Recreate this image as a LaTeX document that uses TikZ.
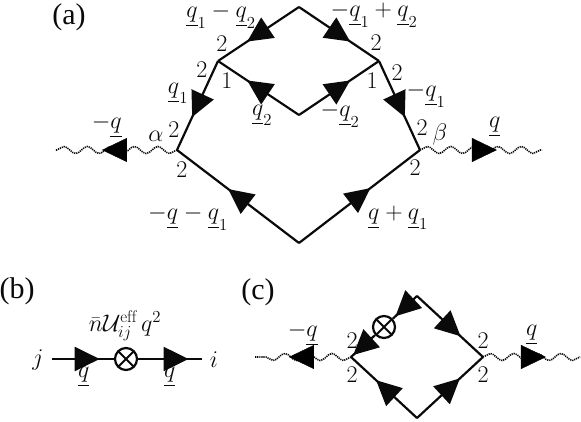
\documentclass[tikz,border=0pt]{standalone}
\usepackage{fix-cm}
\usepackage{amsmath,amssymb}
\usepackage{fontspec}
\usetikzlibrary{arrows.meta,decorations.markings,decorations.pathmorphing}
\newfontfamily\panelfont{Liberation Serif}
\definecolor{Ink}{HTML}{0A0A0A}
\newcommand{\uq}[1][]{\underline{q}_{#1}}
\tikzset{
  line/.style={Ink,line width=2.2pt},
  wave/.style={Ink,line width=1.6pt,dash pattern=on 1.2pt off 0.9pt,decorate,
    decoration={snake,segment length=23.5pt,amplitude=3.5pt}},
  head/.style={decoration={markings,
    mark=at position #1 with {\arrow{Triangle[length=25pt,width=24pt]}}},
    postaction={decorate}},
  lbl/.style={Ink,inner sep=0pt,font=\fontsize{24}{26}\selectfont},
  panel/.style={Ink,inner sep=0pt,font=\panelfont\fontsize{30}{32}\selectfont},
  vertexop/.style={circle,draw=Ink,fill=white,line width=2.2pt,minimum size=22pt,
    inner sep=0pt,path picture={
      \draw[Ink,line width=1.9pt]
        (path picture bounding box.north west) -- (path picture bounding box.south east)
        (path picture bounding box.north east) -- (path picture bounding box.south west);}}
}
\begin{document}
\begin{tikzpicture}[x=1pt,y=-1pt,line join=round]
  \useasboundingbox (0,0) rectangle (581,422);
  % panel (a)
  \coordinate (atop) at (299,7);
  \coordinate (ajl) at (218,61);
  \coordinate (ajr) at (379,61);
  \coordinate (ain) at (299,115);
  \coordinate (avl) at (177,150);
  \coordinate (avr) at (420,150);
  \coordinate (abot) at (299,243);
  \coordinate (awl) at (55,150);
  \coordinate (awr) at (542,150);
  \draw[line,head=0.64] (atop) -- (ajl);
  \draw[line,head=0.64] (atop) -- (ajr);
  \draw[line,head=0.64] (ain) -- (ajl);
  \draw[line,head=0.64] (ain) -- (ajr);
  \draw[line,head=0.63] (ajl) -- (avl);
  \draw[line,head=0.63] (ajr) -- (avr);
  \draw[line,head=0.58] (abot) -- (avl);
  \draw[line,head=0.59] (abot) -- (avr);
  \draw[wave] (avl) -- (awl);
  \draw[wave] (avr) -- (awr);
  \path[head=0.615] (avl) -- (awl);
  \path[head=0.63] (avr) -- (awr);
  \node[panel] (pa) at (69,17) {(a)};
  \node[lbl] (la) at (221,16) {$\uq[1]-\uq[2]$};
  \node[lbl] (lb) at (374,15) {$-\uq[1]+\uq[2]$};
  \node[lbl] (lc) at (178,93) {$\uq[1]$};
  \node[lbl] (ld) at (262,115) {$\uq[2]$};
  \node[lbl] (le) at (340,115) {$-\uq[2]$};
  \node[lbl] (lf) at (426,95) {$-\uq[1]$};
  \node[lbl] (lg) at (107,127) {$-\uq$};
  \node[lbl] (lh) at (495,127) {$\uq$};
  \node[lbl] (li) at (188,218) {$-\uq-\uq[1]$};
  \node[lbl] (lj) at (398,218) {$\uq+\uq[1]$};
  \node[lbl] (lalpha) at (156,136) {$\alpha$};
  \node[lbl] (lbeta) at (440,135) {$\beta$};
  \node[lbl] (none) at (227,81) {$1$};
  \node[lbl] (ntwo) at (372,81) {$1$};
  \foreach \x/\y [count=\n] in {222/44,202/70,174/130,182/170,376/43,397/73,422/128,415/168}
    \node[lbl] (atwo\n) at (\x,\y) {$2$};
  % panel (b)
  \node[panel] (pb) at (17,291) {(b)};
  \coordinate (bj) at (52,359);
  \coordinate (bi) at (202,359);
  \node[vertexop] (bop) at (126,359) {};
  \draw[line,head=0.77] (bj) -- (bop);
  \draw[line,head=0.79] (bop) -- (bi);
  \node[lbl] (lu) at (125,326) {$\bar{n}\mathcal{U}^{\mathrm{eff}}_{ij}\,q^2$};
  \node[lbl] (lsj) at (38,360) {$j$};
  \node[lbl] (lsi) at (214,360) {$i$};
  \node[lbl] (lqa) at (84,377) {$\uq$};
  \node[lbl] (lqb) at (170,377) {$\uq$};
  % panel (c)
  \node[panel] (pc) at (258,292) {(c)};
  \coordinate (cl) at (351,357);
  \coordinate (cr) at (483,357);
  \coordinate (ct) at (417,296);
  \coordinate (cb) at (417,418);
  \coordinate (cwl) at (255,357);
  \coordinate (cwr) at (580,357);
  \node[vertexop] (cop) at (384,327) {};
  \draw[line,head=0.89] (ct) -- (cop);
  \draw[line,head=0.91] (cop) -- (cl);
  \draw[line,head=0.66] (ct) -- (cr);
  \draw[line,head=0.62] (cb) -- (cl);
  \draw[line,head=0.65] (cb) -- (cr);
  \draw[wave] (cl) -- (cwl);
  \draw[wave] (cr) -- (cwr);
  \path[head=0.646] (cl) -- (cwl);
  \path[head=0.649] (cr) -- (cwr);
  \node[lbl] (lk) at (303,335) {$-\uq$};
  \node[lbl] (ll) at (532,335) {$\uq$};
  \foreach \x/\y [count=\n] in {352/341,352/375,483/341,483/375}
    \node[lbl] (ctwo\n) at (\x,\y) {$2$};
\end{tikzpicture}
\end{document}
